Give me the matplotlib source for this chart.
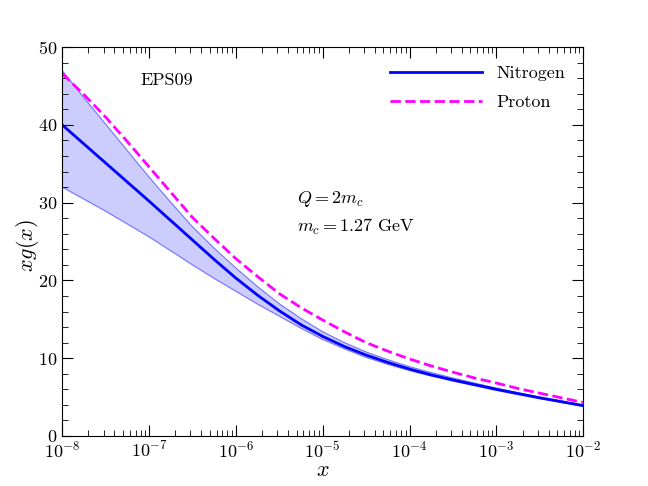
import numpy as np
import matplotlib
matplotlib.use('Agg')
import matplotlib.pyplot as plt
from matplotlib.ticker import MultipleLocator

# values, quarter-decade grid in x
log_x = [-8, -7.75, -7.5, -7.25, -7, -6.75, -6.5, -6.25, -6, -5.75, -5.5, -5.25, -5,
         -4.75, -4.5, -4.25, -4, -3.75, -3.5, -3.25, -3, -2.75, -2.5, -2.25, -2]
nitrogen = [40.0, 37.55, 35.1, 32.65, 30.2, 27.7, 25.2, 22.7, 20.3, 18.1, 16.1, 14.3, 12.8,
            11.5, 10.4, 9.45, 8.6, 7.85, 7.2, 6.6, 6.0, 5.45, 4.9, 4.4, 3.9]
nitrogen_up = [47.0, 43.5, 40.1, 36.7, 33.3, 30.05, 26.9, 24.15, 21.6, 19.2, 17.0, 15.1, 13.4,
               12.0, 10.8, 9.8, 8.9, 8.15, 7.45, 6.8, 6.15, 5.55, 5.0, 4.5, 4.0]
nitrogen_lo = [32.0, 30.45, 28.9, 27.25, 25.6, 23.8, 22.0, 20.25, 18.6, 16.95, 15.4, 13.85, 12.4,
               11.2, 10.1, 9.2, 8.4, 7.7, 7.05, 6.45, 5.85, 5.3, 4.8, 4.3, 3.8]
proton = [46.6, 43.9, 41.0, 37.85, 34.6, 31.35, 28.1, 25.4, 22.8, 20.5, 18.3, 16.5, 14.9,
          13.4, 12.0, 10.9, 9.9, 9.0, 8.2, 7.45, 6.8, 6.1, 5.5, 4.9, 4.3]

x = 10.0 ** np.array(log_x)

plt.rcParams['font.family'] = 'serif'
plt.rcParams['font.serif'] = ['cmr10', 'DejaVu Serif']
plt.rcParams['mathtext.fontset'] = 'cm'
plt.rcParams['axes.formatter.use_mathtext'] = True
plt.rcParams['axes.unicode_minus'] = False

fig = plt.figure(figsize=(6.48, 4.86), dpi=100)
ax = fig.add_axes([0.096, 0.103, 0.804, 0.8])

# band + central line
ax.fill_between(x, nitrogen_lo, nitrogen_up, facecolor='b', alpha=0.2, linewidth=0)
ax.plot(x, nitrogen_up, color='b', lw=0.8, alpha=0.5)
ax.plot(x, nitrogen_lo, color='b', lw=0.8, alpha=0.5)
ax.plot(x, nitrogen, color='b', lw=2, label='Nitrogen')
ax.plot(x, proton, color='magenta', lw=2, ls='--', label='Proton')

ax.set_xscale('log')
ax.set_xlim(1e-8, 1e-2)
ax.set_ylim(0, 50)
ax.yaxis.set_major_locator(MultipleLocator(10))
ax.yaxis.set_minor_locator(MultipleLocator(2))

ax.tick_params(which='both', direction='in', top=True, right=True, labelsize=13)
ax.tick_params(which='major', length=8)
ax.tick_params(which='minor', length=4)
ax.tick_params(axis='x', pad=3)

ax.set_xlabel(r'$x$', fontsize=16, labelpad=0)
ax.set_ylabel(r'$xg(x)$', fontsize=16)
ax.yaxis.set_label_coords(-0.04, 0.49)

ax.text(0.15, 0.915, 'EPS09', transform=ax.transAxes, fontsize=13, va='center')
ax.text(0.451, 0.609, r'$Q = 2m_c$', transform=ax.transAxes, fontsize=13, va='center')
ax.text(0.451, 0.537, r'$m_c = 1.27\ \mathrm{GeV}$', transform=ax.transAxes, fontsize=13, va='center')

ax.legend(loc='upper right', frameon=False, fontsize=13, handlelength=5.1,
          borderaxespad=0.6, labelspacing=0.75)

plt.savefig('out.png', dpi=100)
plt.close()
